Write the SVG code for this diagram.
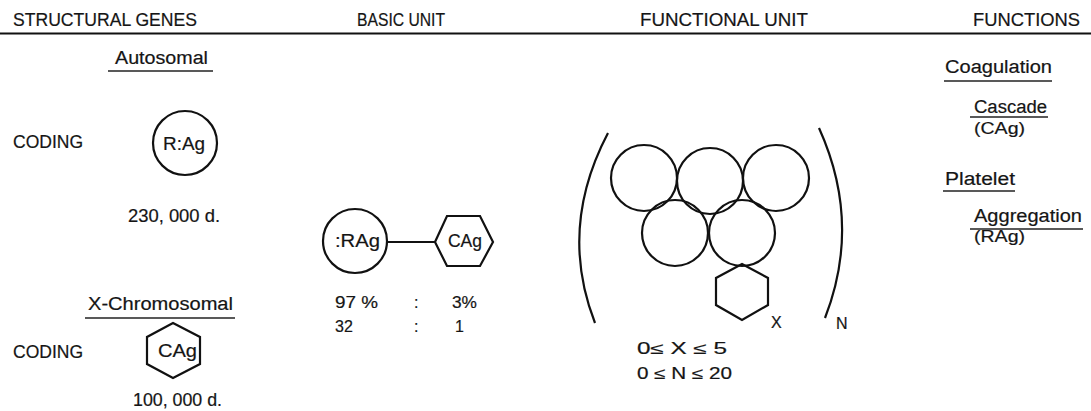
<svg xmlns="http://www.w3.org/2000/svg" width="1091" height="411" viewBox="0 0 1091 411">
  <style>
    text { font-family: "Liberation Sans", "DejaVu Sans", sans-serif; fill: #151515; stroke: #151515; stroke-width: 0.2; }
    .hd { font-size: 19px; }
    .tx { font-size: 18px; }
    .sm { font-size: 16px; }
    .ln { stroke: #111; stroke-width: 2; fill: none; }
    .ul { stroke: #222; stroke-width: 1.5; fill: none; }
    .sh { stroke: #111; stroke-width: 2.2; fill: none; }
  </style>

  <!-- column headers -->
  <g id="headers">
    <text class="hd" x="13" y="26" textLength="184" lengthAdjust="spacingAndGlyphs">STRUCTURAL GENES</text>
    <text class="hd" x="357" y="26" textLength="88" lengthAdjust="spacingAndGlyphs">BASIC UNIT</text>
    <text class="hd" x="640" y="26" textLength="168" lengthAdjust="spacingAndGlyphs">FUNCTIONAL UNIT</text>
    <text class="hd" x="973" y="26" textLength="107" lengthAdjust="spacingAndGlyphs">FUNCTIONS</text>
    <line class="ln" x1="0" y1="33.5" x2="1091" y2="33.5" stroke-width="2.5"/>
  </g>

  <!-- structural genes: autosomal -->
  <g id="autosomal">
    <text class="tx" x="115" y="64" textLength="93" lengthAdjust="spacingAndGlyphs">Autosomal</text>
    <line class="ul" x1="108" y1="71" x2="213" y2="71"/>
    <text class="tx" x="13" y="148" textLength="70" lengthAdjust="spacingAndGlyphs">CODING</text>
  </g>
  <g id="rag-gene">
    <circle class="sh" cx="185" cy="143" r="32"/>
    <text class="tx" x="163" y="150" textLength="42" lengthAdjust="spacingAndGlyphs">R:Ag</text>
    <text class="tx" x="128" y="222" textLength="92" lengthAdjust="spacingAndGlyphs">230, 000 d.</text>
  </g>

  <!-- structural genes: X-chromosomal -->
  <g id="x-chromosomal">
    <text class="tx" x="88" y="310" textLength="145" lengthAdjust="spacingAndGlyphs">X-Chromosomal</text>
    <line class="ul" x1="85" y1="318" x2="235" y2="318"/>
    <text class="tx" x="13" y="358" textLength="70" lengthAdjust="spacingAndGlyphs">CODING</text>
  </g>
  <g id="cag-gene">
    <polygon class="sh" points="173,323 200,337 200,364 173,378 147,364 147,337"/>
    <text class="tx" x="158" y="357" textLength="39" lengthAdjust="spacingAndGlyphs">CAg</text>
    <text class="tx" x="133" y="406" textLength="89" lengthAdjust="spacingAndGlyphs">100, 000 d.</text>
  </g>

  <!-- basic unit -->
  <g id="basic-rag">
    <circle class="sh" cx="355" cy="241" r="32"/>
    <text class="tx" x="335" y="247" textLength="45" lengthAdjust="spacingAndGlyphs">:RAg</text>
  </g>
  <g id="basic-cag">
    <polygon class="sh" points="435,242 447,216 480,216 493,242 480,266 447,266"/>
    <text class="tx" x="448" y="247" textLength="34" lengthAdjust="spacingAndGlyphs">CAg</text>
  </g>
  <g id="basic-ratio">
    <text class="sm" x="335" y="308" textLength="43" lengthAdjust="spacingAndGlyphs">97 %</text>
    <text class="sm" x="414" y="308">:</text>
    <text class="sm" x="452" y="308" textLength="25" lengthAdjust="spacingAndGlyphs">3%</text>
    <text class="sm" x="335" y="332">32</text>
    <text class="sm" x="414" y="332">:</text>
    <text class="sm" x="455" y="332">1</text>
  </g>

  <!-- functional unit -->
  <g id="functional-unit">
    <path class="sh" d="M608,133 Q558,228 595,323"/>
    <path class="sh" d="M819,128 Q862,223 825,318"/>
    <circle class="sh" cx="644" cy="178" r="33"/>
    <circle class="sh" cx="710" cy="181" r="33"/>
    <circle class="sh" cx="776" cy="178" r="33"/>
    <circle class="sh" cx="675" cy="233" r="33"/>
    <circle class="sh" cx="742" cy="233" r="33"/>
    <polygon class="sh" points="742,264 768,278 768,305 742,320 716,305 716,278"/>
    <text class="sm" x="771" y="328">X</text>
    <text class="sm" x="836" y="329">N</text>
    <text class="sm" x="637" y="354" textLength="90" lengthAdjust="spacingAndGlyphs">0≤ X ≤ 5</text>
    <text class="sm" x="637" y="379" textLength="95" lengthAdjust="spacingAndGlyphs">0 ≤ N ≤ 20</text>
  </g>

  <!-- functions -->
  <g id="coagulation">
    <text class="tx" x="945" y="73" textLength="107" lengthAdjust="spacingAndGlyphs">Coagulation</text>
    <line class="ul" x1="944" y1="81" x2="1052" y2="81"/>
    <text class="tx" x="974" y="113" textLength="73" lengthAdjust="spacingAndGlyphs">Cascade</text>
    <line class="ul" x1="970" y1="117" x2="1048" y2="117"/>
    <text class="sm" x="974" y="134" textLength="51" lengthAdjust="spacingAndGlyphs">(CAg)</text>
  </g>
  <g id="platelet">
    <text class="tx" x="945" y="185" textLength="70" lengthAdjust="spacingAndGlyphs">Platelet</text>
    <line class="ul" x1="943" y1="191" x2="1015" y2="191"/>
    <text class="tx" x="974" y="222" textLength="108" lengthAdjust="spacingAndGlyphs">Aggregation</text>
    <line class="ul" x1="970" y1="229" x2="1083" y2="229"/>
    <text class="sm" x="974" y="242" textLength="51" lengthAdjust="spacingAndGlyphs">(RAg)</text>
  </g>

  <!-- connectors -->
  <g id="connectors">
    <line class="ln" x1="387" y1="242" x2="435" y2="242"/>
  </g>
</svg>
